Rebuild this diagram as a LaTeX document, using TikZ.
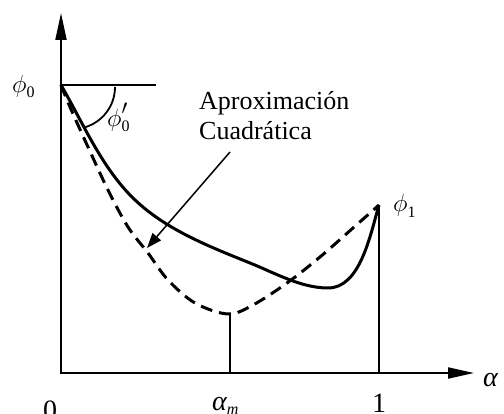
\documentclass[tikz,border=0pt]{standalone}
\usepackage{fontspec}
\setmainfont{Liberation Serif}
\usetikzlibrary{arrows.meta}
\newcommand{\sbs}[2][5pt]{\raisebox{-#1}{\fontsize{16}{16}\selectfont #2}}
\newcommand{\gphi}{$\phi$}
\begin{document}
\begin{tikzpicture}[x=1pt,y=-1pt,
  axis/.style={line width=2pt},
  curve/.style={line width=3pt, line join=round},
  guide/.style={line width=1.8pt},
  lbl/.style={inner sep=0pt, anchor=base west, font=\fontsize{28}{28}\selectfont},
  note/.style={inner sep=0pt, anchor=base west, font=\fontsize{26}{30}\selectfont},
  ]
\useasboundingbox (0,0) rectangle (504,414);
\coordinate (O) at (61,373);
\coordinate (Ytip) at (61,13);
\coordinate (Xtip) at (474,373);
\coordinate (P0) at (61,85);
\coordinate (H) at (156,85);
\coordinate (P1) at (379,205);
\coordinate (P1b) at (379,373);
\coordinate (M) at (230,313);
\coordinate (Mb) at (230,373);
\coordinate (ArcS) at (115,87);
\coordinate (S1) at (132,197);
\coordinate (S2) at (250,263);
\coordinate (S3) at (328,288);
% axes
\draw[axis, {Triangle[length=27pt,width=11pt]}-{Triangle[length=26pt,width=11pt]}] (Ytip) -- (O) -- (Xtip);
\draw[axis] (P0) -- (H);
\draw[guide] (P1) -- (P1b);
\draw[guide] (M) -- (Mb);
\draw[guide] (ArcS) arc[start angle=0,end angle=-74,radius=42pt];
% curves
\draw[curve] (P0) .. controls (83,123) and (101,166) .. (S1)
  .. controls (164,229) and (208,246) .. (S2)
  .. controls (275,273) and (301,288) .. (S3)
  .. controls (360,288) and (370,236) .. (P1);
\draw[curve, dash pattern=on 12pt off 7pt] plot[smooth, tension=0.55] coordinates {(61,85) (70,107) (88,147) (108,190) (128,227) (148,253) (168,280) (195,303) (228,314) (253,305) (287,283) (320,257) (353,228) (379,205)};
% annotation
\node[note] (apx) at (199,110) {Aproximación};
\node[note] (cuad) at (199,140) {Cuadrática};
\coordinate (As) at (230,152);
\coordinate (At) at (147,248);
\draw[line width=1.5pt, -{Triangle[length=15pt,width=11pt]}] (As) -- (At);
% labels
\node[lbl] (lphi0) at (12,92.5) {\gphi\sbs{0}};
\node[lbl] (lphid) at (107,127) {\gphi\sbs{\rlap{\raisebox{17pt}{\fontsize{20}{20}\selectfont$\prime$}}0}};
\node[lbl] (lphi1) at (393,212) {\gphi\sbs[6pt]{1}};
\node[lbl] (lalpha) at (483,387) {\itshape α};
\node[lbl] (lalm) at (212,410) {\itshape α\sbs[4pt]{m}};
\node[lbl] (lzero) at (43,420) {0};
\node[lbl] (lone) at (372,413) {1};
\end{tikzpicture}
\end{document}
